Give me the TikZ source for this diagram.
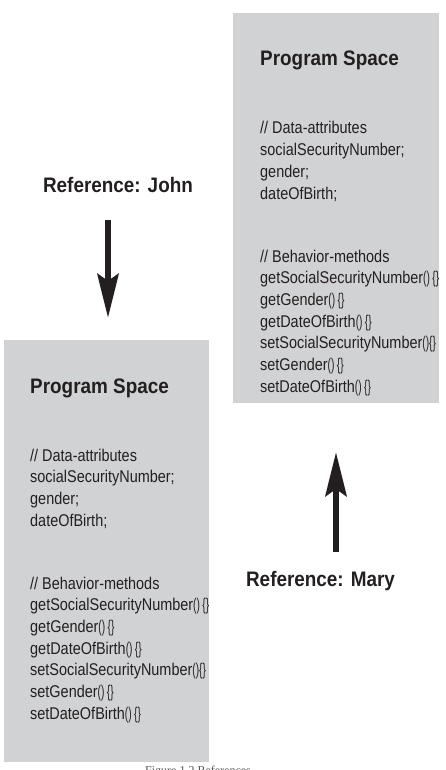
\documentclass[tikz,border=0pt]{standalone}
\usepackage{fontspec}
\setmainfont{Liberation Sans}[FakeStretch=0.9]
\newfontfamily\bodyfont{Liberation Sans}[FakeStretch=0.85]
\newfontfamily\np{Liberation Sans}[FakeStretch=0.6]
\newfontfamily\capfont{Liberation Serif}
\usetikzlibrary{arrows.meta}
\definecolor{boxgray}{HTML}{D1D2D4}
\definecolor{ink}{HTML}{231F20}
\definecolor{capgray}{HTML}{555555}
\newcommand\ebody{{\np()\hspace{0.14em}\{\}}}
\newcommand\ebodytight{{\np()\{\}}}
\begin{document}
\begin{tikzpicture}[x=1pt,y=-1pt,
  box/.style={fill=boxgray, draw=none, inner sep=0pt, outer sep=0pt, anchor=north west},
  titletext/.style={anchor=base west, inner sep=0pt, font=\fontsize{21}{25}\selectfont\bfseries, text=ink},
  bodytext/.style={anchor=base west, inner sep=0pt, font=\bodyfont\fontsize{17}{21}\selectfont, text=ink},
  reflabel/.style={anchor=base, inner sep=0pt, font=\fontsize{21}{25}\selectfont\bfseries, text=ink},
  bigarrow/.style={draw=ink, line width=6.5pt, -{Stealth[length=44pt,width=21pt,inset=7pt]}}]
\useasboundingbox (0,0) rectangle (445,770);
\clip (0,0) rectangle (445,770);

% Right box (Mary's object)
\node[box, minimum width=206pt, minimum height=390pt] (rbox) at (233,13) {};
\node[titletext] (rtitle) at (260,66) {Program Space};
\foreach \t [count=\i from 0] in {{// Data-attributes},{socialSecurityNumber;},{gender;},{dateOfBirth;}}
  \node[bodytext] (rd\i) at (260,134+21.67*\i) {\t};
\foreach \t [count=\i from 0] in {{// Behavior-methods},{getSocialSecurityNumber\ebody},{getGender\ebody},{getDateOfBirth\ebody},{setSocialSecurityNumber\ebodytight},{setGender\ebody},{setDateOfBirth\ebody}}
  \node[bodytext] (rb\i) at (260,262+21.67*\i) {\t};

% Left box (John's object)
\node[box, minimum width=205pt, minimum height=422pt] (lbox) at (4,340) {};
\node[titletext] (ltitle) at (30,393) {Program Space};
\foreach \t [count=\i from 0] in {{// Data-attributes},{socialSecurityNumber;},{gender;},{dateOfBirth;}}
  \node[bodytext] (ld\i) at (30,461+21.67*\i) {\t};
\foreach \t [count=\i from 0] in {{// Behavior-methods},{getSocialSecurityNumber\ebody},{getGender\ebody},{getDateOfBirth\ebody},{setSocialSecurityNumber\ebodytight},{setGender\ebody},{setDateOfBirth\ebody}}
  \node[bodytext] (lb\i) at (30,589+21.67*\i) {\t};

% References
\node[reflabel] (john) at (118,193) {Reference: John};
\node[reflabel] (mary) at (320.5,586) {Reference: Mary};
\coordinate (jstart) at (108,220);
\coordinate (jend) at (108,318);
\coordinate (mstart) at (336,552);
\coordinate (mend) at (336,452);
\draw[bigarrow] (jstart) -- (jend);
\draw[bigarrow] (mstart) -- (mend);

% Clipped caption
\node[anchor=base west, inner sep=0pt, font=\capfont\fontsize{12}{14}\selectfont, text=capgray] (caption) at (145,774.5) {Figure 1.2 References};
\end{tikzpicture}
\end{document}
